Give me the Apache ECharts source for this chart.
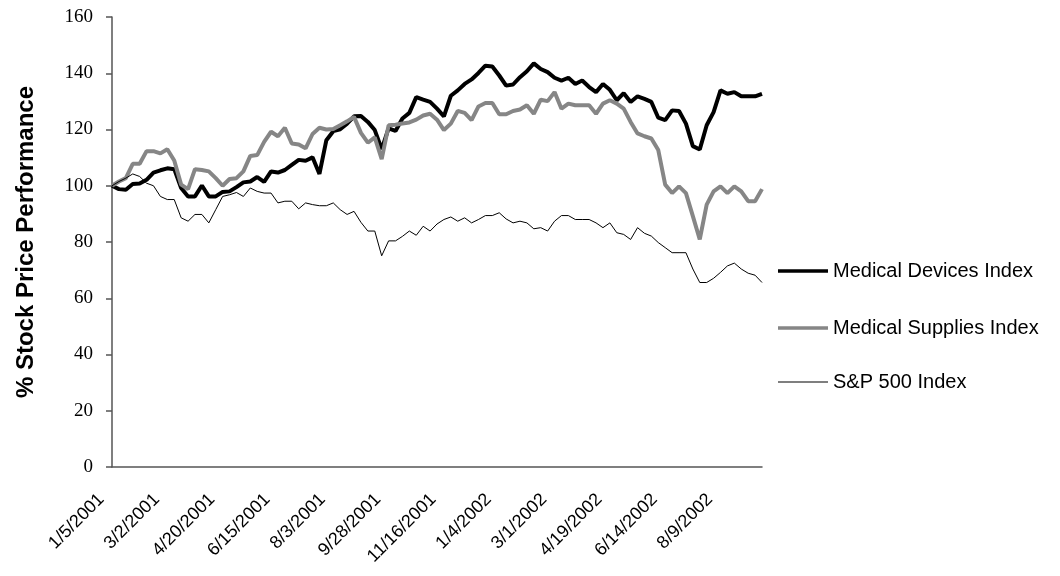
<!DOCTYPE html>
<html lang="en">

<head>
    <meta charset="UTF-8">
    <title>Stock Price Performance</title>
    <script src="https://cdn.jsdelivr.net/npm/echarts@6.0.0/dist/echarts.min.js"></script>
    <style>
        html, body { margin: 0; padding: 0; background: #fff; }
        #main { width: 1060px; height: 576px; }
    </style>
</head>

<body>
<div id="main"></div>

<script type="text/javascript">
    // weekly dates (a label shows on every 8th one)
    var dates = [
        '1/5/2001', '1/12/2001', '1/19/2001', '1/26/2001', '2/2/2001', '2/9/2001', '2/16/2001', '2/23/2001',
        '3/2/2001', '3/9/2001', '3/16/2001', '3/23/2001', '3/30/2001', '4/2/2001', '4/6/2001', '4/12/2001',
        '4/20/2001', '4/27/2001', '5/4/2001', '5/11/2001', '5/18/2001', '5/25/2001', '6/1/2001', '6/8/2001',
        '6/15/2001', '6/22/2001', '6/29/2001', '7/3/2001', '7/6/2001', '7/13/2001', '7/20/2001', '7/27/2001',
        '8/3/2001', '8/10/2001', '8/17/2001', '8/24/2001', '8/31/2001', '9/7/2001', '9/10/2001', '9/21/2001',
        '9/28/2001', '10/5/2001', '10/12/2001', '10/19/2001', '10/26/2001', '10/31/2001', '11/2/2001', '11/9/2001',
        '11/16/2001', '11/21/2001', '11/23/2001', '11/30/2001', '12/7/2001', '12/14/2001', '12/21/2001', '12/28/2001',
        '1/4/2002', '1/11/2002', '1/18/2002', '1/25/2002', '2/1/2002', '2/8/2002', '2/15/2002', '2/22/2002',
        '3/1/2002', '3/8/2002', '3/15/2002', '3/22/2002', '3/28/2002', '4/1/2002', '4/5/2002', '4/12/2002',
        '4/19/2002', '4/26/2002', '5/3/2002', '5/10/2002', '5/17/2002', '5/24/2002', '5/31/2002', '6/7/2002',
        '6/14/2002', '6/21/2002', '6/28/2002', '7/5/2002', '7/12/2002', '7/19/2002', '7/26/2002', '8/2/2002',
        '8/9/2002', '8/16/2002', '8/23/2002', '8/30/2002', '9/6/2002', '9/13/2002', '9/20/2002'
    ];

    var devices = [
        100.0, 98.8, 98.6, 100.6, 100.8, 102.1, 104.7, 105.5,
        106.2, 105.9, 99.2, 96.2, 96.2, 100.1, 96.2, 96.2,
        97.8, 98.0, 99.5, 101.2, 101.5, 103.1, 101.4, 105.1,
        104.7, 105.6, 107.4, 109.2, 108.9, 110.1, 104.2, 116.2,
        119.4, 120.1, 122.1, 124.7, 124.8, 122.7, 119.8, 113.0,
        120.4, 119.5, 123.9, 125.9, 131.5, 130.6, 129.8, 127.4,
        124.7, 132.0, 133.9, 136.2, 137.8, 140.1, 142.7, 142.4,
        139.2, 135.6, 136.0, 138.6, 140.7, 143.5, 141.5, 140.4,
        138.4, 137.4, 138.4, 136.2, 137.4, 135.1, 133.3, 136.2,
        134.1, 130.4, 132.9, 129.8, 131.8, 130.9, 129.8, 124.2,
        123.3, 126.8, 126.6, 122.1, 114.1, 112.9, 121.5, 126.2,
        133.9, 132.7, 133.3, 131.8, 131.8, 131.8, 132.7
    ];

    var supplies = [
        100.0, 101.5, 102.7, 107.8, 107.8, 112.3, 112.3, 111.5,
        113.0, 109.0, 100.4, 98.8, 105.9, 105.6, 105.1, 102.7,
        100.0, 102.4, 102.7, 105.1, 110.6, 110.9, 115.6, 119.2,
        117.6, 120.6, 115.0, 114.7, 113.3, 118.4, 120.6, 120.0,
        120.2, 121.5, 122.9, 124.5, 118.8, 115.3, 117.2, 109.5,
        121.5, 121.7, 122.1, 122.5, 123.5, 125.0, 125.6, 123.5,
        119.8, 122.1, 126.6, 125.9, 123.3, 128.2, 129.4, 129.4,
        125.4, 125.4, 126.6, 127.1, 128.6, 125.6, 130.6, 130.1,
        133.3, 127.4, 129.2, 128.6, 128.6, 128.6, 125.6, 129.2,
        130.4, 129.2, 127.4, 122.7, 118.6, 117.6, 116.8, 112.7,
        100.4, 97.4, 99.8, 97.4, 89.2, 80.9, 93.3, 98.0,
        99.8, 97.4, 99.8, 98.0, 94.5, 94.5, 98.8
    ];

    var sp500 = [
        100.0, 101.5, 102.7, 104.2, 103.3, 100.9, 100.0, 96.2,
        95.1, 95.1, 88.6, 87.4, 89.8, 89.8, 86.8, 91.5,
        96.2, 96.8, 97.6, 96.2, 99.2, 98.0, 97.4, 97.4,
        93.9, 94.5, 94.5, 91.8, 93.9, 93.3, 92.9, 92.9,
        93.9, 91.5, 89.8, 90.9, 87.0, 83.9, 83.9, 75.1,
        80.4, 80.4, 82.0, 83.9, 82.4, 85.6, 83.9, 86.4,
        88.0, 88.9, 87.4, 88.6, 86.8, 88.0, 89.4, 89.4,
        90.4, 88.2, 86.8, 87.4, 86.8, 84.7, 85.1, 83.9,
        87.4, 89.4, 89.4, 88.0, 88.0, 88.0, 86.8, 85.1,
        86.8, 83.3, 82.7, 80.9, 85.1, 83.1, 82.1, 79.8,
        78.0, 76.2, 76.2, 76.2, 70.4, 65.6, 65.6, 67.1,
        69.2, 71.5, 72.5, 70.4, 68.9, 68.2, 65.6
    ];

    var seriesNames = ['Medical Devices Index', 'Medical Supplies Index', 'S&P 500 Index'];
    var seriesColors = ['#000000', '#868686', '#000000'];
    var seriesWidths = [4, 4, 1];

    var axisColor = '#555555';

    var myChart = echarts.init(document.getElementById('main'));

    // one legend per series so each key line can have its own thickness
    function makeLegend(i, top) {
        return {
            orient: 'vertical',
            left: 778,
            top: top,
            padding: 0,
            itemWidth: 50,
            itemHeight: seriesWidths[i] === 1 ? 1.2 : 3.5,
            icon: 'rect',
            selectedMode: false,
            textStyle: {
                fontFamily: 'Liberation Sans',
                fontSize: 20,
                lineHeight: 20,
                color: '#000'
            },
            data: [{ name: seriesNames[i], itemStyle: { color: seriesColors[i] } }]
        };
    }

    var option = {
        animation: false,
        backgroundColor: '#ffffff',
        grid: {
            left: 112,
            right: 298,
            top: 17,
            bottom: 109,
            outerBoundsMode: 'none'
        },
        legend: [
            makeLegend(0, 261),
            makeLegend(1, 318),
            makeLegend(2, 372)
        ],
        xAxis: {
            type: 'category',
            boundaryGap: false,
            data: dates,
            axisLine: {
                show: true,
                lineStyle: { color: axisColor, width: 1.5 }
            },
            axisTick: { show: false },
            axisLabel: {
                interval: 7,
                rotate: 45,
                margin: 19,
                padding: [0, 15, 0, 0],
                fontFamily: 'Liberation Sans',
                fontSize: 18,
                color: '#000'
            },
            splitLine: { show: false }
        },
        yAxis: {
            type: 'value',
            min: 0,
            max: 160,
            interval: 20,
            name: '% Stock Price Performance',
            nameLocation: 'middle',
            nameRotate: 90,
            nameGap: 74,
            nameTextStyle: {
                fontFamily: 'Liberation Sans',
                fontWeight: 'bold',
                fontSize: 24,
                color: '#000'
            },
            axisLine: {
                show: true,
                lineStyle: { color: axisColor, width: 1.5 }
            },
            axisTick: {
                show: true,
                length: 6,
                lineStyle: { color: axisColor, width: 1.5 }
            },
            axisLabel: {
                margin: 19,
                fontFamily: 'Liberation Serif',
                fontSize: 19,
                color: '#000'
            },
            splitLine: { show: false }
        },
        series: [
            {
                name: seriesNames[0],
                type: 'line',
                data: devices,
                symbol: 'none',
                lineStyle: { color: seriesColors[0], width: seriesWidths[0] },
                itemStyle: { color: seriesColors[0] }
            },
            {
                name: seriesNames[1],
                type: 'line',
                data: supplies,
                symbol: 'none',
                lineStyle: { color: seriesColors[1], width: seriesWidths[1] },
                itemStyle: { color: seriesColors[1] }
            },
            {
                name: seriesNames[2],
                type: 'line',
                data: sp500,
                symbol: 'none',
                lineStyle: { color: seriesColors[2], width: seriesWidths[2] },
                itemStyle: { color: seriesColors[2] }
            }
        ]
    };

    myChart.setOption(option);
</script>
</body>

</html>
